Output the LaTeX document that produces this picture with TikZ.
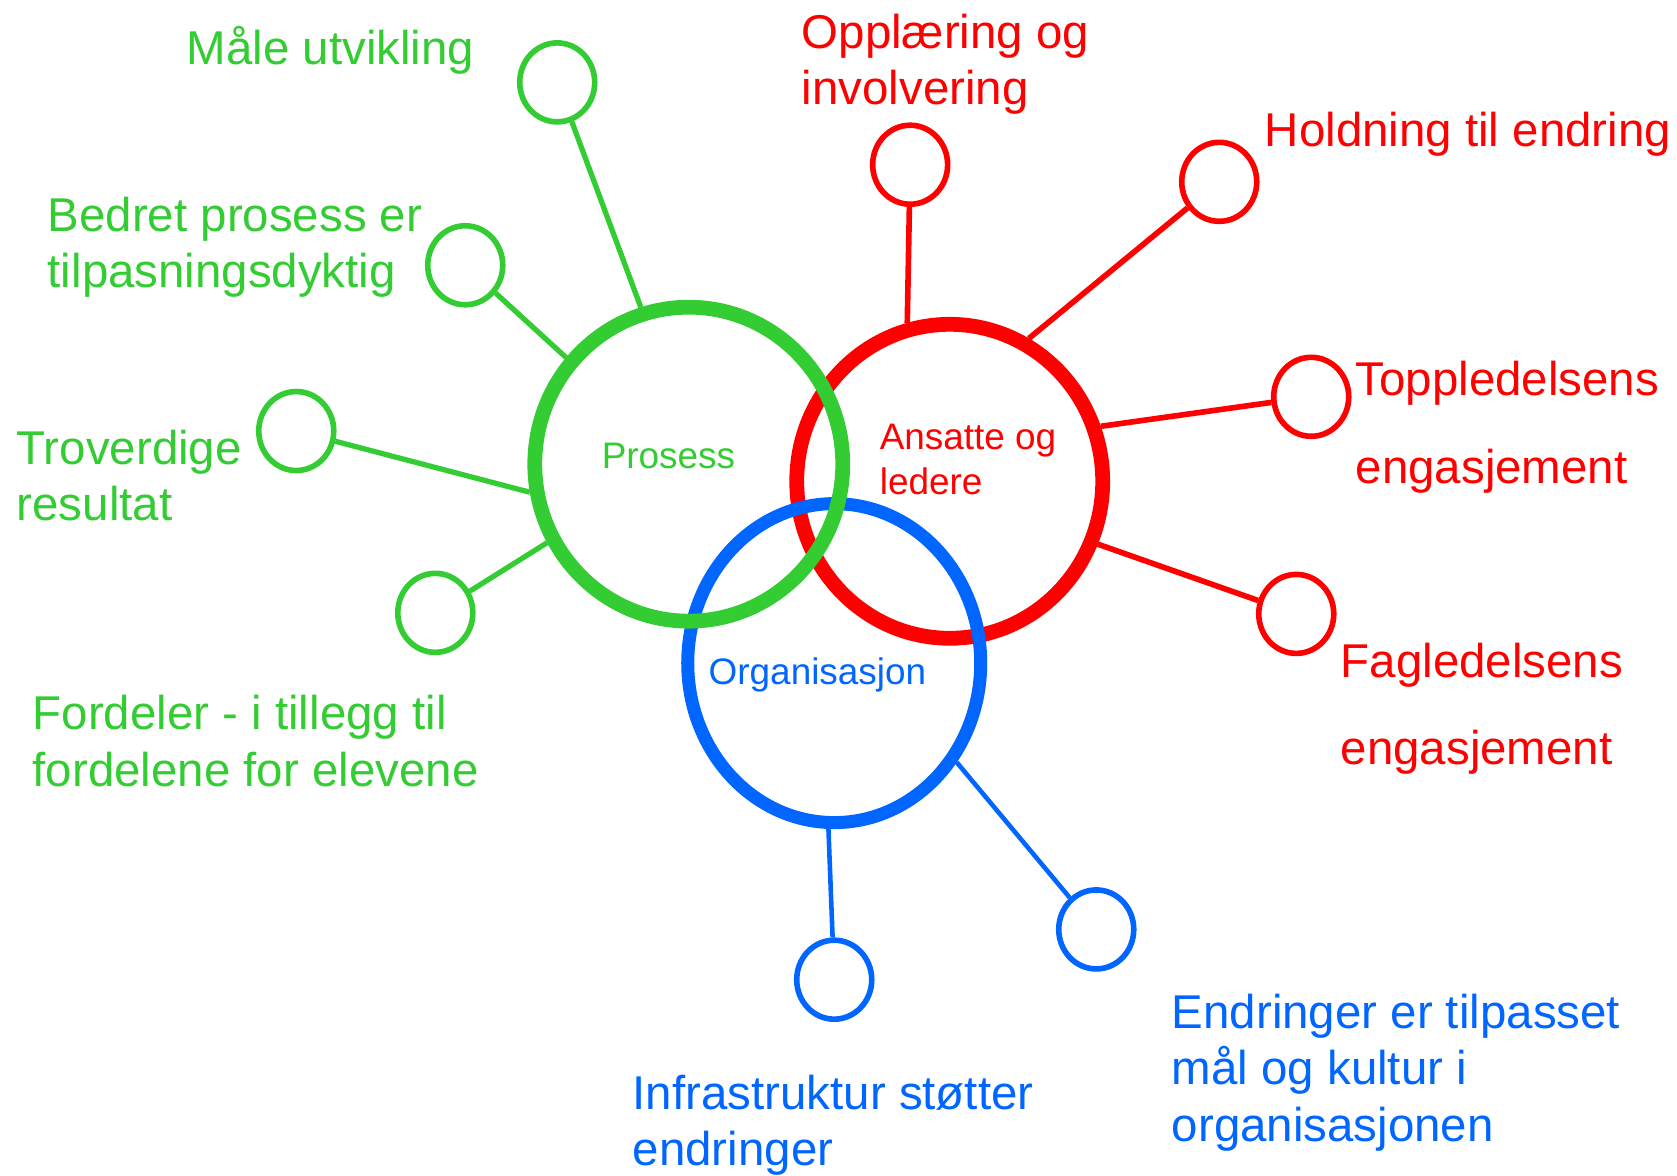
\documentclass[tikz,border=0pt]{standalone}
\usepackage{fontspec}
\setmainfont{Liberation Sans}
\usetikzlibrary{shapes.geometric}
\definecolor{prosgreen}{RGB}{51,204,51}
\definecolor{ansred}{RGB}{255,0,0}
\definecolor{orgblue}{RGB}{0,102,255}
\tikzset{
  hub/.style={ellipse, draw, line width=4.2pt, inner sep=0pt},
  leaf/.style={ellipse, draw, line width=1.6pt, inner sep=0pt, minimum width=0.75cm, minimum height=0.79cm},
  lbl/.style={anchor=base west, align=left, inner sep=0pt, font=\fontsize{13.5}{16.1}\selectfont},
  inlbl/.style={anchor=base west, align=left, inner sep=0pt, font=\fontsize{10.5}{12.8}\selectfont},
  wide/.style={font=\fontsize{13.5}{24.9}\selectfont}
}

\begin{document}
\begin{tikzpicture}[x=0.010695cm, y=-0.010695cm]
        \useasboundingbox (0,0) rectangle (1568,1099);
        % the three hubs
        \node[hub, ansred, minimum width=3.06cm, minimum height=3.14cm] (ansatte) at (888,450) {};
        \node[hub, orgblue, line width=3.7pt, minimum width=2.93cm, minimum height=3.19cm] (org) at (780,620) {};
        \node[hub, prosgreen, minimum width=3.08cm, minimum height=3.14cm] (prosess) at (644,434) {};

        \node[inlbl, prosgreen] (prostxt) at (562,438) {Prosess};
        \node[inlbl, ansred] (anstxt) at (822,462) {Ansatte og\\ledere};
        \node[inlbl, orgblue] (orgtxt) at (662,640) {Organisasjon};

        % leaves
        \node[leaf, prosgreen] (maal) at (521,77) {};
        \node[leaf, prosgreen] (bedret) at (435,248) {};
        \node[leaf, prosgreen] (trover) at (277,403) {};
        \node[leaf, prosgreen] (fordel) at (407,573) {};
        \node[leaf, ansred] (oppl) at (851,154) {};
        \node[leaf, ansred] (hold) at (1140,170) {};
        \node[leaf, ansred] (topp) at (1226,371) {};
        \node[leaf, ansred] (fagl) at (1212,574) {};
        \node[leaf, orgblue] (infra) at (780,916) {};
        \node[leaf, orgblue] (endr) at (1025,869) {};

        \draw[prosgreen, line width=1.5pt] (maal) -- (prosess.107);
        \draw[prosgreen, line width=1.5pt] (bedret) -- (prosess.139);
        \draw[prosgreen, line width=1.5pt] (trover) -- (prosess.190);
        \draw[prosgreen, line width=1.5pt] (fordel) -- (prosess.209);
        \draw[ansred, line width=1.6pt] (oppl) -- (ansatte.105);
        \draw[ansred, line width=1.6pt] (hold) -- (ansatte.61);
        \draw[ansred, line width=1.6pt] (topp) -- (ansatte.20);
        \draw[ansred, line width=1.6pt] (fagl) -- (ansatte.337);
        \draw[orgblue, line width=1.3pt] (infra) -- (org.268);
        \draw[orgblue, line width=1.3pt] (endr) -- (org.321);

        % labels (base = last line)
        \node[lbl, prosgreen] (maaltxt) at (174,60) {Måle utvikling};
        \node[lbl, prosgreen] (bedtxt) at (44,269) {Bedret prosess er\\tilpasningsdyktig};
        \node[lbl, prosgreen] (trovtxt) at (15,487) {Troverdige\\resultat};
        \node[lbl, prosgreen] (fordtxt) at (30,735) {Fordeler - i tillegg til\\fordelene for elevene};
        \node[lbl, ansred] (oppltxt) at (749,98) {Opplæring og\\involvering};
        \node[lbl, ansred] (holdtxt) at (1182,137) {Holdning til endring};
        \node[lbl, ansred, wide] (topptxt) at (1267,452) {Toppledelsens\\engasjement};
        \node[lbl, ansred, wide] (fagltxt) at (1253,715) {Fagledelsens\\engasjement};
        \node[lbl, orgblue] (endrtxt) at (1095,1067) {Endringer er tilpasset\\mål og kultur i\\organisasjonen};
        \node[lbl, orgblue] (infratxt) at (591,1090) {Infrastruktur støtter\\endringer};
      \end{tikzpicture}
\end{document}
